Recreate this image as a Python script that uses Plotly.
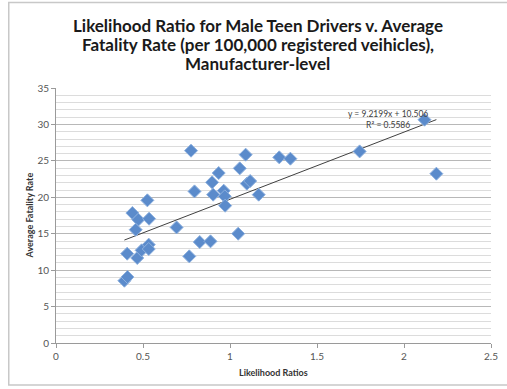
import plotly.graph_objects as go

# Data
likelihood_ratio = [0.393, 0.411, 0.409, 0.439, 0.473, 0.458, 0.467, 0.492, 0.525, 0.535,
                    0.533, 0.533, 0.693, 0.766, 0.776, 0.796, 0.826, 0.888, 0.897, 0.903,
                    0.935, 0.964, 0.970, 0.972, 1.047, 1.056, 1.090, 1.097, 1.116, 1.165,
                    1.283, 1.347, 1.745, 2.118, 2.186]
fatality_rate = [8.55, 9.06, 12.26, 17.84, 16.93, 15.55, 11.67, 12.72, 19.58, 17.06,
                 13.5, 12.9, 15.87, 11.89, 26.4, 20.81, 13.86, 13.95, 22.05, 20.36,
                 23.33, 20.9, 20.13, 18.85, 15.0, 23.97, 25.85, 21.87, 22.23, 20.36,
                 25.48, 25.3, 26.3, 30.65, 23.24]
trend_slope = 9.2199
trend_intercept = 10.506
r_squared = 0.5586

x_ticks = [0, 0.5, 1, 1.5, 2, 2.5]
x_tick_labels = ["0", "0.5", "1", "1.5", "2", "2.5"]
y_ticks = [0, 5, 10, 15, 20, 25, 30, 35]

title_lines = ["Likelihood Ratio for Male Teen Drivers v. Average",
               "Fatality Rate (per 100,000 registered veihicles),",
               "Manufacturer-level"]
x_title = "Likelihood Ratios"
y_title = "Average Fatality Rate"

W, H = 507, 389
ML, MR, MT, MB = 56, 9, 88, 46
PW, PH = W - ML - MR, H - MT - MB


def px_x(p):
    return (p - ML) / PW


def px_y(p):
    return (H - MB - p) / PH


fig = go.Figure()

# trendline across data range
xmin, xmax = min(likelihood_ratio), max(likelihood_ratio)
fig.add_trace(go.Scatter(
    x=[xmin, xmax],
    y=[trend_slope * xmin + trend_intercept, trend_slope * xmax + trend_intercept],
    mode="lines", line=dict(color="#404040", width=1), hoverinfo="skip", showlegend=False))

fig.add_trace(go.Scatter(
    x=likelihood_ratio, y=fatality_rate, mode="markers",
    marker=dict(symbol="diamond", size=10, color="#5B8BCB",
                line=dict(color="#8DB0DE", width=1)),
    showlegend=False))

annotations = [
    dict(xref="paper", yref="paper", x=px_x(393), y=px_y(119),
         text=f"y = {trend_slope}x + {trend_intercept}<br>R² = {r_squared}",
         showarrow=False, xanchor="center", yanchor="middle", align="center",
         font=dict(family="Lato", size=8.5, color="#404040")),
    dict(xref="paper", yref="paper", x=px_x(277), y=px_y(372), text=f"<b>{x_title}</b>",
         showarrow=False, xanchor="center", yanchor="middle",
         font=dict(family="Lato", size=9, color="#333333")),
    dict(xref="paper", yref="paper", x=px_x(29), y=px_y(215), text=f"<b>{y_title}</b>",
         showarrow=False, xanchor="center", yanchor="middle", textangle=-90,
         font=dict(family="Lato", size=9, color="#333333")),
]
for line, yc in zip(title_lines, [25, 44.5, 63.5]):
    annotations.append(dict(xref="paper", yref="paper", x=px_x(261), y=px_y(yc),
                            text=f"<b>{line}</b>", showarrow=False,
                            xanchor="center", yanchor="middle",
                            font=dict(family="Lato", size=17, color="#1a1a1a")))

fig.update_layout(
    width=W, height=H,
    margin=dict(l=ML, r=MR, t=MT, b=MB),
    paper_bgcolor="white", plot_bgcolor="white",
    annotations=annotations,
    hovermode=False,
    xaxis=dict(range=[0, 2.5], tickvals=x_ticks, ticktext=x_tick_labels,
               showgrid=False, zeroline=False, showline=True, linecolor="#9a9a9a",
               linewidth=1, ticks="outside", ticklen=4, tickcolor="#9a9a9a",
               tickfont=dict(family="Lato", size=10, color="#555555")),
    yaxis=dict(range=[0, 35], tickvals=y_ticks, showgrid=True, gridcolor="#b8b8b8",
               gridwidth=1, zeroline=False, showline=True, linecolor="#9a9a9a",
               linewidth=1, ticks="outside", ticklen=4, tickcolor="#9a9a9a",
               minor=dict(dtick=1, showgrid=True, gridcolor="#dcdcdc", gridwidth=1),
               tickfont=dict(family="Lato", size=10, color="#555555")),
    shapes=[dict(type="rect", xref="paper", yref="paper",
                 x0=px_x(8), x1=px_x(520), y0=px_y(385), y1=px_y(2.5),
                 line=dict(color="#c8c8c8", width=1.5), layer="below")],
)

fig.write_html("out.html", config={"displayModeBar": False},
               post_script="document.body.style.margin='0';document.body.style.overflow='hidden';")
